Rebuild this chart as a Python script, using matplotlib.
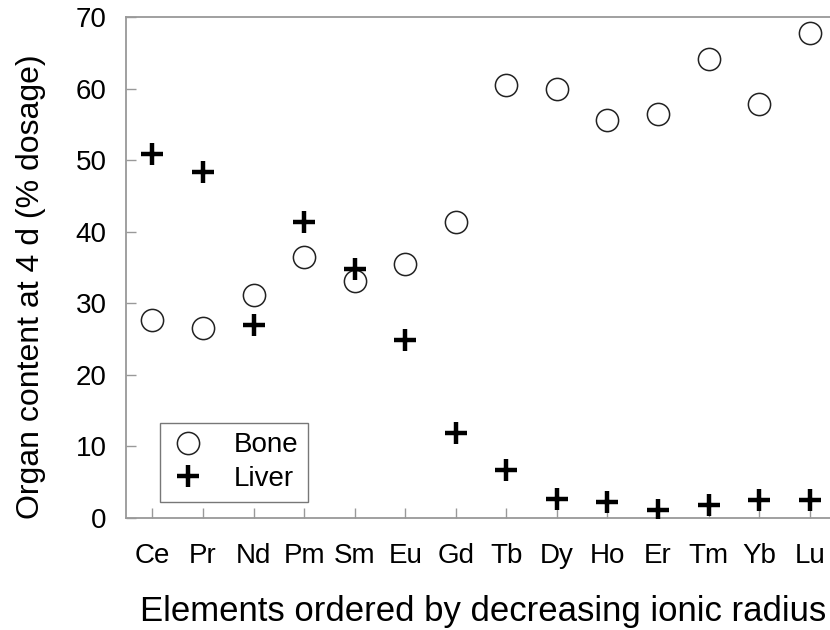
import matplotlib
matplotlib.use("Agg")
import matplotlib.pyplot as plt
from matplotlib.lines import Line2D

elements = ["Ce", "Pr", "Nd", "Pm", "Sm", "Eu", "Gd", "Tb", "Dy", "Ho", "Er", "Tm", "Yb", "Lu"]
bone = [27.6, 26.5, 31.2, 36.4, 33.1, 35.5, 41.3, 60.5, 59.9, 55.6, 56.4, 64.1, 57.8, 67.7]
liver = [50.9, 48.3, 27.0, 41.3, 34.8, 24.9, 11.9, 6.65, 2.65, 2.27, 1.1, 1.8, 2.55, 2.55]
yticks = [0, 10, 20, 30, 40, 50, 60, 70]

plt.rcParams['font.family'] = ['Liberation Sans', 'DejaVu Sans']

fig = plt.figure(figsize=(8.3, 6.3), dpi=100)
ax = fig.add_axes([0.152, 0.178, 0.86, 0.795])

x = list(range(len(elements)))
circ = dict(linestyle='none', marker='o', markersize=16, markerfacecolor='white',
            markeredgecolor='#222222', markeredgewidth=1.1)
plus = dict(linestyle='none', marker='+', markersize=16, markeredgecolor='black',
            markeredgewidth=3.2)
ax.plot(x, bone, label='Bone', zorder=3, **circ)
ax.plot(x, liver, label='Liver', zorder=4, **plus)

ax.set_xlim(-0.52, 13.6)
ax.set_ylim(0, 70)
ax.set_xticks(x)
ax.set_xticklabels(elements, fontsize=20)
ax.set_yticks(yticks)
ax.set_yticklabels([str(v) for v in yticks], fontsize=20)
ax.tick_params(direction='in', length=7, width=1, color='#999999')
ax.tick_params(axis='x', pad=18)
ax.tick_params(axis='y', pad=14)

for s in ['left', 'bottom', 'top']:
    ax.spines[s].set_color('#999999')
    ax.spines[s].set_linewidth(1.3)
ax.spines['right'].set_visible(False)

ax.set_xlabel('Elements ordered by decreasing ionic radius', fontsize=25, labelpad=19)
ax.set_ylabel('Organ content at 4 d (% dosage)', fontsize=23)
ax.yaxis.set_label_coords(-0.112, 0.462)

handles = [Line2D([], [], **circ), Line2D([], [], **plus)]
leg = ax.legend(handles, ['Bone', 'Liver'], loc='lower left', bbox_to_anchor=(0.048, 0.032),
                borderaxespad=0, fontsize=20, frameon=True, fancybox=False, edgecolor='#555555',
                handletextpad=1.0, borderpad=0.35, labelspacing=0.28, handlelength=1.3)
leg.get_frame().set_linewidth(1.0)

fig.savefig('out.png', dpi=100)
